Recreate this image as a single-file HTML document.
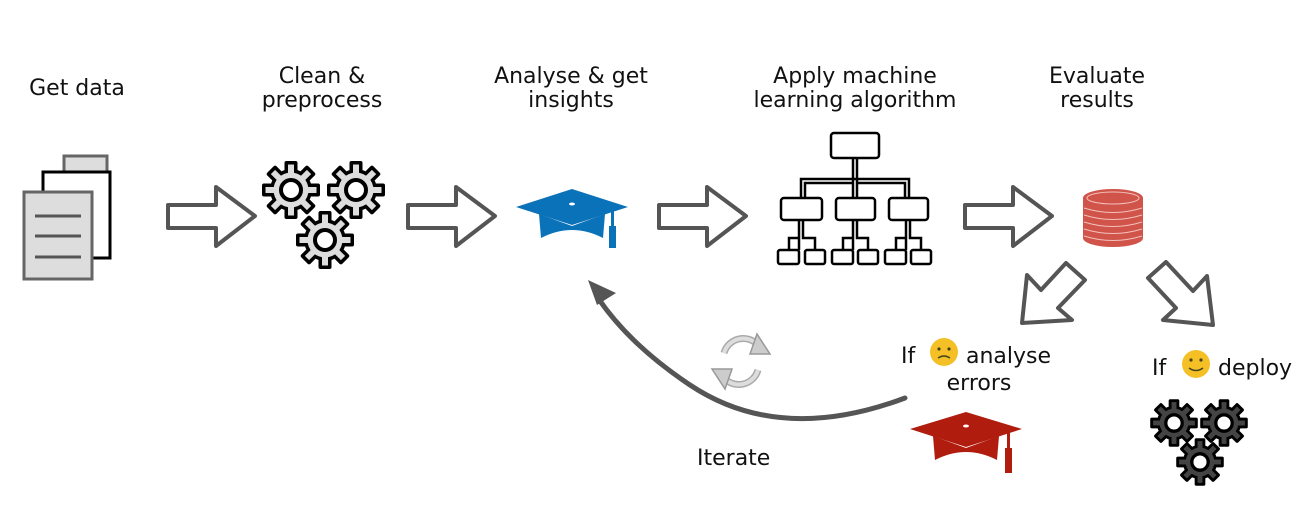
<!DOCTYPE html>
<html><head><meta charset="utf-8"><style>
html,body{margin:0;padding:0;background:#fff;}
svg{display:block;}
text{font-family:"DejaVu Sans","Liberation Sans",sans-serif;font-size:22px;fill:#111;}
</style></head><body>
<svg width="1302" height="513" viewBox="0 0 1302 513" xmlns="http://www.w3.org/2000/svg">
<defs>
<g id="gear">
  <g fill="#000">
    <circle r="21"/>
    <rect x="-6.5" y="-29" width="13" height="12" rx="2"/>
    <rect x="-6.5" y="-29" width="13" height="12" rx="2" transform="rotate(45)"/>
    <rect x="-6.5" y="-29" width="13" height="12" rx="2" transform="rotate(90)"/>
    <rect x="-6.5" y="-29" width="13" height="12" rx="2" transform="rotate(135)"/>
    <rect x="-6.5" y="-29" width="13" height="12" rx="2" transform="rotate(180)"/>
    <rect x="-6.5" y="-29" width="13" height="12" rx="2" transform="rotate(225)"/>
    <rect x="-6.5" y="-29" width="13" height="12" rx="2" transform="rotate(270)"/>
    <rect x="-6.5" y="-29" width="13" height="12" rx="2" transform="rotate(315)"/>
  </g>
  <g>
    <circle r="17.5"/>
    <rect x="-3" y="-25.5" width="6" height="10"/>
    <rect x="-3" y="-25.5" width="6" height="10" transform="rotate(45)"/>
    <rect x="-3" y="-25.5" width="6" height="10" transform="rotate(90)"/>
    <rect x="-3" y="-25.5" width="6" height="10" transform="rotate(135)"/>
    <rect x="-3" y="-25.5" width="6" height="10" transform="rotate(180)"/>
    <rect x="-3" y="-25.5" width="6" height="10" transform="rotate(225)"/>
    <rect x="-3" y="-25.5" width="6" height="10" transform="rotate(270)"/>
    <rect x="-3" y="-25.5" width="6" height="10" transform="rotate(315)"/>
  </g>
  <circle r="10" fill="#fff" stroke="#000" stroke-width="4"/>
</g>
<path id="arr" d="M0,0 H48 V-18 L87,11 L48,41 V23 H0 Z" fill="#fff" stroke="#555" stroke-width="4" stroke-linejoin="round"/>
</defs>

<!-- labels -->
<text x="77" y="95" text-anchor="middle">Get data</text>
<text x="322" y="83" text-anchor="middle">Clean &amp;</text>
<text x="322" y="107" text-anchor="middle">preprocess</text>
<text x="571" y="83" text-anchor="middle">Analyse &amp; get</text>
<text x="571" y="107" text-anchor="middle">insights</text>
<text x="855" y="83" text-anchor="middle">Apply machine</text>
<text x="855" y="107" text-anchor="middle">learning algorithm</text>
<text x="1097" y="83" text-anchor="middle">Evaluate</text>
<text x="1097" y="107" text-anchor="middle">results</text>

<!-- docs -->
<rect x="64" y="156" width="43" height="86" fill="#ddd" stroke="#666" stroke-width="3"/>
<rect x="43" y="172" width="67" height="86" fill="#fff" stroke="#000" stroke-width="3"/>
<rect x="24" y="192" width="68" height="87" fill="#ddd" stroke="#666" stroke-width="3"/>
<g stroke="#555" stroke-width="3"><line x1="35" y1="216" x2="81" y2="216"/><line x1="35" y1="236" x2="81" y2="236"/><line x1="35" y1="257" x2="81" y2="257"/></g>

<!-- arrows -->
<use href="#arr" x="168" y="205"/>
<use href="#arr" x="408" y="205"/>
<use href="#arr" x="659" y="205"/>
<use href="#arr" x="965" y="205"/>

<!-- gears -->
<use href="#gear" x="291" y="190" fill="#ddd"/>
<use href="#gear" x="356" y="190" fill="#ddd"/>
<use href="#gear" x="325" y="240" fill="#ddd"/>

<!-- blue cap -->
<g fill="#0a72b8">
<polygon points="572,189 516,207 572,225 628,207"/>
<path d="M539,214 L572,226 L605,214 L603,238 Q572,222 541,238 Z"/>
<rect x="611" y="207" width="3" height="25"/>
<rect x="609" y="226" width="7" height="22"/>
</g>
<ellipse cx="572" cy="204" rx="3" ry="1.5" fill="#fff"/>

<!-- tree -->
<g fill="none" stroke="#000" stroke-width="2.5">
<rect x="831" y="133" width="48" height="25" rx="3"/>
<rect x="781" y="198" width="41" height="22" rx="3"/>
<rect x="836" y="198" width="39" height="22" rx="3"/>
<rect x="889" y="198" width="39" height="22" rx="3"/>
<path d="M853,158 V198 M857,158 V198 M801,198 V179 H909 V198 M805,198 V183 H853 M857,183 H905 V198"/>
<rect x="778" y="250" width="21" height="14" rx="2"/><rect x="805" y="250" width="20" height="14" rx="2"/>
<rect x="832" y="250" width="21" height="14" rx="2"/><rect x="858" y="250" width="20" height="14" rx="2"/>
<rect x="885" y="250" width="21" height="14" rx="2"/><rect x="911" y="250" width="20" height="14" rx="2"/>
<path d="M799,220 V250 M803,220 V238 H815 V250 M789,250 V238 H799"/>
<path d="M853,220 V250 M857,220 V238 H868 V250 M843,250 V238 H853"/>
<path d="M906,220 V250 M910,220 V238 H921 V250 M896,250 V238 H906"/>
</g>

<!-- database -->
<g fill="#d0544a">
<ellipse cx="1113" cy="238" rx="30" ry="9"/>
<rect x="1083" y="198" width="60" height="40"/>
<ellipse cx="1113" cy="198" rx="30" ry="9"/>
</g>
<g fill="none" stroke="#f3c0bb" stroke-width="1">
<ellipse cx="1113" cy="198" rx="26" ry="6"/>
<path d="M1084,208 Q1113,217 1142,208 M1084,215 Q1113,224 1142,215 M1084,222 Q1113,231 1142,222 M1084,229 Q1113,238 1142,229 M1084,236 Q1113,245 1142,236"/>
</g>

<!-- diagonal arrows -->
<path d="M1066,263 L1085,280 L1058,308 L1072,320 L1022,323 L1027,275 L1041,290 Z" fill="#fff" stroke="#555" stroke-width="4" stroke-linejoin="round"/>
<path d="M1166,262 L1148,278 L1176,308 L1163,320 L1213,325 L1207,276 L1193,291 Z" fill="#fff" stroke="#555" stroke-width="4" stroke-linejoin="round"/>

<!-- texts bottom -->
<text x="901" y="363">If</text>
<circle cx="944" cy="352" r="14" fill="#f5c026"/>
<circle cx="939" cy="349" r="1.6" fill="#442"/><circle cx="949" cy="349" r="1.6" fill="#442"/>
<path d="M938,358 Q944,354 950,358" stroke="#442" stroke-width="1.5" fill="none"/>
<text x="966" y="363">analyse</text>
<text x="979" y="390" text-anchor="middle">errors</text>
<text x="1152" y="375">If</text>
<circle cx="1196" cy="364" r="14" fill="#f5c026"/>
<circle cx="1191" cy="360" r="1.6" fill="#442"/><circle cx="1201" cy="360" r="1.6" fill="#442"/>
<path d="M1189,368 Q1196,373 1203,368" stroke="#442" stroke-width="1.5" fill="none"/>
<text x="1218" y="375">deploy</text>
<text x="697" y="465">Iterate</text>

<!-- red cap -->
<g fill="#b01c0e">
<polygon points="966,412 910,429 966,447 1022,429"/>
<path d="M933,436 L966,448 L999,436 L997,460 Q966,444 935,460 Z"/>
<rect x="1007" y="429" width="3" height="26"/>
<rect x="1005" y="448" width="7" height="25"/>
</g>
<ellipse cx="966" cy="426" rx="3" ry="1.5" fill="#fff"/>

<!-- dark gears -->
<use href="#gear" fill="#444" transform="translate(1174,423) scale(0.82)"/>
<use href="#gear" fill="#444" transform="translate(1224,423) scale(0.82)"/>
<use href="#gear" fill="#444" transform="translate(1200,462) scale(0.82)"/>

<!-- iterate curve -->
<path d="M905,398 Q780,445 690,385 Q630,345 598,298" fill="none" stroke="#555" stroke-width="5" stroke-linecap="round"/>
<polygon points="588,280 616,293 597,305" fill="#555"/>

<!-- cycle icon -->
<g fill="none" stroke="#aaa" stroke-width="7">
<path d="M724,353 A20,20 0 0 1 758,345"/>
<path d="M758,370 A20,20 0 0 1 724,378"/>
</g>
<g fill="none" stroke="#ddd" stroke-width="4">
<path d="M724,353 A20,20 0 0 1 758,345"/>
<path d="M758,370 A20,20 0 0 1 724,378"/>
</g>
<polygon points="757,334 770,354 750,354" fill="#ccc" stroke="#999" stroke-width="1.5"/>
<polygon points="725,389 712,369 732,369" fill="#ccc" stroke="#999" stroke-width="1.5"/>
</svg>
</body></html>
